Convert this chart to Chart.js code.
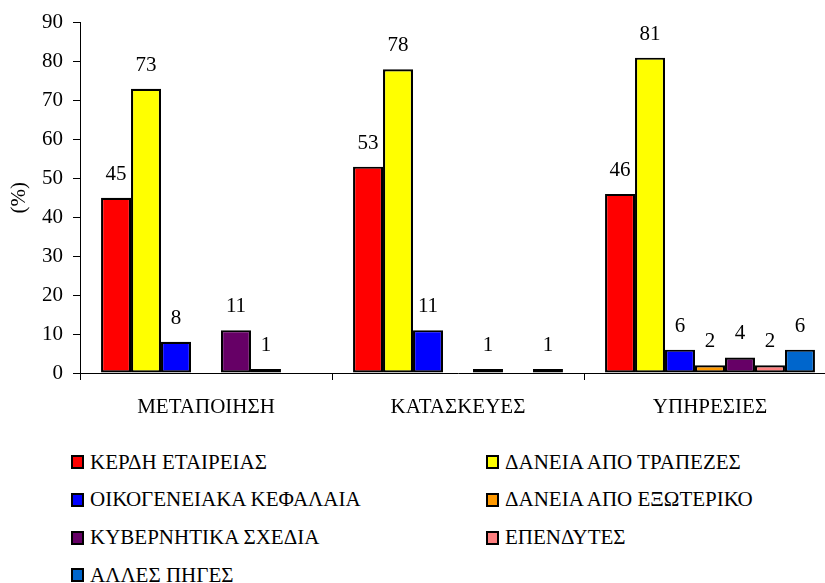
<!DOCTYPE html>
<html>
<head>
<meta charset="utf-8">
<script src="https://cdn.jsdelivr.net/npm/chart.js@4.4.1/dist/chart.umd.min.js"></script>
<style>
  html, body { margin: 0; padding: 0; background: #fff; overflow: hidden; }
  #wrap { position: absolute; left: 0; top: 0; width: 845px; height: 440px; }
  #legend { position: absolute; left: 71px; top: 449px; width: 740px; }
  .item { position: absolute; height: 26px; display: flex; align-items: center; font-family: "Liberation Serif", "Times New Roman", serif; font-size: 21px; color: #000; white-space: nowrap; }
  .box { width: 9px; height: 10px; border: 2px solid #000; margin-right: 6px; flex: none; }
</style>
</head>
<body>
<div id="wrap"><canvas id="chart"></canvas></div>
<div id="legend"></div>
<script>
const categories = ['ΜΕΤΑΠΟΙΗΣΗ', 'ΚΑΤΑΣΚΕΥΕΣ', 'ΥΠΗΡΕΣΙΕΣ'];

const seriesNames = [
  'ΚΕΡΔΗ ΕΤΑΙΡΕΙΑΣ',
  'ΔΑΝΕΙΑ ΑΠΟ ΤΡΑΠΕΖΕΣ',
  'ΟΙΚΟΓΕΝΕΙΑΚΑ ΚΕΦΑΛΑΙΑ',
  'ΔΑΝΕΙΑ ΑΠΟ ΕΞΩΤΕΡΙΚΟ',
  'ΚΥΒΕΡΝΗΤΙΚΑ ΣΧΕΔΙΑ',
  'ΕΠΕΝΔΥΤΕΣ',
  'ΑΛΛΕΣ ΠΗΓΕΣ'
];

const kerdi = [45, 53, 46];
const daneiaTrapezes = [73, 78, 81];
const oikogeneiaka = [8, 11, 6];
const daneiaExoteriko = [0, 0, 2];
const kyvernitika = [11, 1, 4];
const ependytes = [1, 0, 2];
const alles = [0, 1, 6];

const yTicks = [0, 10, 20, 30, 40, 50, 60, 70, 80, 90];

const colors = ['#FF0000', '#FFFF00', '#0000FF', '#FF9900', '#660066', '#FF8080', '#0066CC'];
const allValues = [kerdi, daneiaTrapezes, oikogeneiaka, daneiaExoteriko, kyvernitika, ependytes, alles];

const serif = '"Liberation Serif", "Times New Roman", serif';

// numbers above the bars (zero values get no label)
const valueLabels = {
  id: 'valueLabels',
  afterDatasetsDraw(chart) {
    const ctx = chart.ctx;
    ctx.save();
    ctx.font = '21px ' + serif;
    ctx.fillStyle = '#000';
    ctx.textAlign = 'center';
    ctx.textBaseline = 'alphabetic';
    chart.data.datasets.forEach((ds, i) => {
      const meta = chart.getDatasetMeta(i);
      meta.data.forEach((bar, j) => {
        const v = ds.data[j];
        if (!v) return;
        ctx.fillText(String(v), bar.x, bar.y - 18);
      });
    });
    ctx.restore();
  }
};

new Chart(document.getElementById('chart'), {
  type: 'bar',
  data: {
    labels: categories,
    datasets: seriesNames.map((name, i) => ({
      label: name,
      data: allValues[i],
      backgroundColor: colors[i],
      borderColor: '#000',
      borderWidth: 2.2,
      borderSkipped: false,
      categoryPercentage: 0.833,
      barPercentage: 1.0
    }))
  },
  options: {
    responsive: true,
    maintainAspectRatio: false,
    animation: false,
    layout: { padding: { top: 12, right: 9, left: 0, bottom: 0 } },
    plugins: {
      legend: { display: false },
      tooltip: { enabled: false }
    },
    scales: {
      x: {
        grid: { display: true, drawOnChartArea: false, drawTicks: true, tickLength: 7, color: '#000', offset: true },
        border: { display: true, color: '#000', width: 1 },
        ticks: { color: '#000', font: { family: serif, size: 21 }, padding: 15 },
        afterFit(scale) { scale.height = 67; }
      },
      y: {
        min: 0,
        max: 90,
        afterBuildTicks(scale) { scale.ticks = yTicks.map(v => ({ value: v })); },
        grid: { display: true, drawOnChartArea: false, drawTicks: true, tickLength: 7, color: '#000' },
        border: { display: true, color: '#000', width: 1 },
        ticks: { color: '#000', font: { family: serif, size: 21 }, padding: 10 },
        title: { display: true, text: '(%)', color: '#000', font: { family: serif, size: 21 }, padding: { top: 7, bottom: 0 } },
        afterFit(scale) { scale.width = 80; }
      }
    }
  },
  plugins: [valueLabels]
});

// two-column legend under the chart
const legend = document.getElementById('legend');
seriesNames.forEach((name, i) => {
  const el = document.createElement('div');
  el.className = 'item';
  el.style.left = (i % 2 === 0 ? 0 : 415) + 'px';
  el.style.top = (Math.floor(i / 2) * 37.8) + 'px';
  el.innerHTML = '<span class="box" style="background:' + colors[i] + '"></span><span>' + name + '</span>';
  legend.appendChild(el);
});
</script>
</body>
</html>
